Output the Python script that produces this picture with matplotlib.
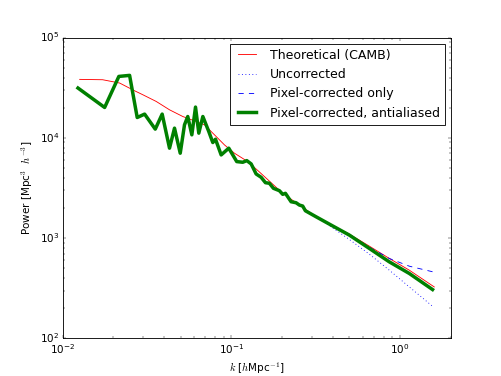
import matplotlib
matplotlib.use("Agg")
import matplotlib.pyplot as plt

plt.style.use("classic")

# theoretical spectrum (CAMB)
k_theory = [0.01262, 0.01726, 0.02176, 0.02668, 0.02987, 0.03588, 0.0430, 0.05155,
            0.06186, 0.0693, 0.07943, 0.09101, 0.1043, 0.1251, 0.1466, 0.2015,
            0.3177, 0.5003, 0.6573, 0.863, 1.134, 1.594]
P_theory = [38300, 38000, 35240, 29510, 26920, 23070, 19050, 16330,
            14560, 13490, 10720, 8510, 7030, 5800, 4570, 2800,
            1633, 1096, 832, 627, 479, 326]

# measured spectra share the same k bins
k_meas = [0.01233, 0.01774, 0.02154, 0.02494, 0.02767, 0.03061, 0.0354, 0.0389,
          0.0430, 0.04603, 0.04977, 0.05275, 0.05516, 0.05831, 0.06131, 0.06412,
          0.06776, 0.07349, 0.07762, 0.08053, 0.0870, 0.09652, 0.1076, 0.1168,
          0.1234, 0.1310, 0.1402, 0.1501, 0.1592, 0.1681, 0.1775, 0.1927,
          0.2015, 0.2091, 0.2259, 0.2418, 0.2530, 0.2647, 0.2746, 0.3177,
          0.3808, 0.5003, 0.6573, 0.863, 1.134, 1.557]
P_antialiased = [31400, 20100, 41000, 42000, 15960, 17260, 12220, 17260,
                 7890, 12500, 7030, 13490, 16330, 10720, 20280, 11140,
                 16330, 11560, 8980, 9700, 6760, 7890, 5800, 5710,
                 5930, 5500, 4365, 4045, 3573, 3524, 3141, 2972,
                 2735, 2799, 2307, 2254, 2138, 2089, 1875, 1633,
                 1380, 1072, 789, 580, 444, 307]

# the three measured curves only differ at high k
n_common = 39
P_uncorr_tail = [1633, 1334, 970, 692, 479, 326, 209]
P_pixcorr_tail = [1633, 1380, 1072, 813, 627, 525, 462]
P_uncorrected = P_antialiased[:n_common] + P_uncorr_tail
P_pixcorrected = P_antialiased[:n_common] + P_pixcorr_tail

fig = plt.figure(figsize=(8.016, 6.016), dpi=62.5)
ax = fig.add_subplot(111)

ax.loglog(k_theory, P_theory, 'r-', lw=1, label="Theoretical (CAMB)")
ax.loglog(k_meas, P_uncorrected, 'b:', lw=1, label="Uncorrected")
ax.loglog(k_meas, P_pixcorrected, 'b--', lw=1, label="Pixel-corrected only")
ax.loglog(k_meas, P_antialiased, 'g-', lw=4, label="Pixel-corrected, antialiased")

ax.set_xlim(1e-2, 2)
ax.set_ylim(1e2, 1e5)
ax.set_xlabel(r"$k$ [$h$Mpc$^{-1}$]", fontsize=12)
ax.set_ylabel(r"Power [Mpc$^3$ $\ h^{-3}$]", fontsize=12)
ax.tick_params(labelsize=12)
ax.legend(loc="upper right", fontsize=14.4)

fig.savefig("out.png", dpi=62.5)
